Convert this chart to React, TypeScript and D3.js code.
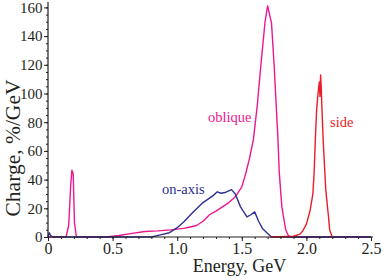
import { useRef, useEffect } from "react";
import * as d3 from "d3";

// energy (GeV) / charge (%/GeV)
const obliqueE = [0, 0.14, 0.16, 0.175, 0.185, 0.195, 0.205, 0.22, 0.23, 0.45, 0.55, 0.65, 0.75, 0.85, 0.95, 1.0, 1.05, 1.1, 1.15, 1.2, 1.25, 1.3, 1.35, 1.4, 1.45, 1.5, 1.53, 1.56, 1.59, 1.62, 1.65, 1.68, 1.7, 1.73, 1.75, 1.78, 1.79, 1.81, 1.84, 1.86, 1.88, 2.5];
const obliqueQ = [0, 0, 8, 35, 46.5, 44, 10, 0, 0, 0, 1, 2.5, 3.8, 4.3, 5, 5.5, 6, 7, 8, 11, 15.5, 18, 21, 24, 28, 35, 44, 55, 68, 92, 122, 150, 161, 149, 120, 68, 45, 21, 5, 1, 0, 0];

const onAxisE = [0, 0.01, 0.02, 0.04, 0.8, 0.87, 0.94, 1.0, 1.05, 1.12, 1.2, 1.28, 1.31, 1.34, 1.37, 1.42, 1.45, 1.49, 1.54, 1.57, 1.6, 1.63, 1.66, 1.7, 1.73, 2.5];
const onAxisQ = [0, 3, 1, 0, 0, 1.5, 3, 6.5, 10.5, 17, 24, 29, 31.5, 30.5, 31, 33, 30, 21, 14, 15.5, 17.5, 11, 6, 2.5, 0, 0];

const sideE = [1.72, 1.9, 1.95, 1.97, 2.0, 2.03, 2.05, 2.06, 2.07, 2.08, 2.09, 2.1, 2.105, 2.11, 2.115, 2.12, 2.13, 2.14, 2.15, 2.17, 2.18, 2.2];
const sideQ = [0, 0.5, 2, 4, 9, 19, 30, 45, 70, 90, 100, 108, 98, 113, 104, 90, 67, 50, 33, 15, 5, 0];

const xTicks = [0, 0.5, 1.0, 1.5, 2.0, 2.5];
const yTicks = [0, 20, 40, 60, 80, 100, 120, 140, 160];

const INK = "#231f20";
const FONT = "'Liberation Serif', 'Times New Roman', serif";

function App() {
  const svgRef = useRef<SVGSVGElement>(null);

  useEffect(() => {
    const svg = d3.select(svgRef.current);
    svg.selectAll("*").remove();

    const x = d3.scaleLinear().domain([0, 2.5]).range([48, 371]);
    const y = d3.scaleLinear().domain([0, 160]).range([237, 7.4]);

    const series = [
      { e: obliqueE, q: obliqueQ, color: "#ec178f" },
      { e: onAxisE, q: onAxisQ, color: "#2e3192" },
      { e: sideE, q: sideQ, color: "#ed1c24" },
    ];

    const path = d3
      .line<[number, number]>()
      .x((d) => x(d[0]))
      .y((d) => y(d[1]));

    series.forEach((s) => {
      const pts: [number, number][] = s.e.map((e, i) => [e, s.q[i]]);
      svg
        .append("path")
        .attr("d", path(pts))
        .attr("fill", "none")
        .attr("stroke", s.color)
        .attr("stroke-width", 1.4)
        .attr("stroke-linejoin", "round");
    });

    // x axis: minor + major ticks
    svg
      .append("g")
      .attr("transform", `translate(0,${y(0)})`)
      .call(
        d3
          .axisBottom(x)
          .tickValues(d3.range(0, 2.51, 0.1))
          .tickSize(2)
          .tickFormat(() => "")
      );
    const gx = svg
      .append("g")
      .attr("transform", `translate(0,${y(0)})`)
      .call(
        d3
          .axisBottom(x)
          .tickValues(xTicks)
          .tickSize(4)
          .tickPadding(1.5)
          .tickFormat((d) => (d === 0 ? "0" : d3.format(".1f")(d as number)))
      );

    // y axis
    svg
      .append("g")
      .attr("transform", `translate(${x(0)},0)`)
      .call(
        d3
          .axisLeft(y)
          .tickValues(d3.range(0, 161, 5))
          .tickSize(2)
          .tickFormat(() => "")
      );
    const gy = svg
      .append("g")
      .attr("transform", `translate(${x(0)},0)`)
      .call(
        d3
          .axisLeft(y)
          .tickValues(yTicks)
          .tickSize(4)
          .tickPadding(1.5)
          .tickFormat((d) => String(d))
      );

    svg.selectAll(".domain").remove();
    svg.selectAll(".tick line").attr("stroke", INK).attr("stroke-width", 1);
    gx.selectAll("text").attr("font-size", 16).attr("font-family", FONT).attr("fill", INK);
    gy.selectAll("text").attr("font-size", 15).attr("font-family", FONT).attr("fill", INK);

    svg
      .append("line")
      .attr("x1", x(0))
      .attr("x2", 373)
      .attr("y1", y(0))
      .attr("y2", y(0))
      .attr("stroke", INK)
      .attr("stroke-width", 1.2);
    svg
      .append("line")
      .attr("x1", x(0))
      .attr("x2", x(0))
      .attr("y1", y(0))
      .attr("y2", 2)
      .attr("stroke", INK)
      .attr("stroke-width", 1.2);

    // titles
    svg
      .append("text")
      .attr("x", 239.5)
      .attr("y", 272)
      .attr("text-anchor", "middle")
      .attr("font-size", 18)
      .attr("font-family", FONT)
      .attr("fill", INK)
      .text("Energy, GeV");
    svg
      .append("text")
      .attr("transform", "translate(19.5,148) rotate(-90)")
      .attr("text-anchor", "middle")
      .attr("font-size", 21.5)
      .attr("font-family", FONT)
      .attr("fill", INK)
      .text("Charge, %/GeV");

    // series labels
    const labels = [
      { t: "oblique", x: 208, y: 122, c: "#ec178f" },
      { t: "on-axis", x: 162, y: 194, c: "#2e3192" },
      { t: "side", x: 330, y: 127, c: "#ed1c24" },
    ];
    labels.forEach((l) => {
      svg
        .append("text")
        .attr("x", l.x)
        .attr("y", l.y)
        .attr("font-size", 14.5)
        .attr("font-family", FONT)
        .attr("fill", l.c)
        .text(l.t);
    });
  }, []);

  return (
    <svg
      ref={svgRef}
      width={384}
      height={278}
      style={{ position: "absolute", left: 0, top: 0, background: "#fff" }}
    />
  );
}

export default App;
